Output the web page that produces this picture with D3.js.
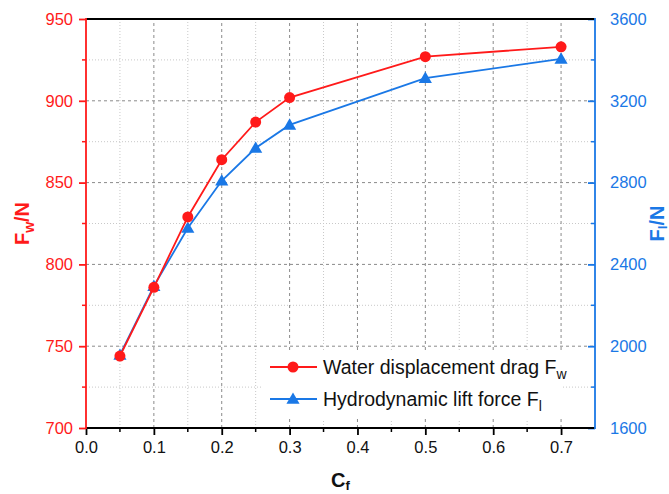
<!DOCTYPE html>
<html>
<head>
<meta charset="utf-8">
<script src="https://cdn.jsdelivr.net/npm/d3@7"></script>
<style>
  body { margin: 0; background: #fff; }
  text { font-family: "Liberation Sans", Arial, sans-serif; }
</style>
</head>
<body>
<div id="chart"></div>
<script>
const cf = [0.05, 0.1, 0.15, 0.2, 0.25, 0.3, 0.5, 0.7];
const dragFw = [744, 786, 829, 864, 887, 902, 927, 933];
const liftFl = [1957, 2294, 2578, 2809, 2969, 3082, 3311, 3405];
const xTicks = [0, 0.1, 0.2, 0.3, 0.4, 0.5, 0.6, 0.7];
const leftTicks = [700, 750, 800, 850, 900, 950];
const rightTicks = [1600, 2000, 2400, 2800, 3200, 3600];

const width = 669, height = 494;
const margin = { top: 19, right: 74, bottom: 66, left: 86 };
const red = "#ff1a1a", blue = "#1a78e6";

const svg = d3.select("#chart").append("svg")
  .attr("width", width).attr("height", height);

const x = d3.scaleLinear().domain([0, 0.75]).range([margin.left, width - margin.right]);
const yL = d3.scaleLinear().domain([700, 950]).range([height - margin.bottom, margin.top]);
const yR = d3.scaleLinear().domain([1600, 3600]).range([height - margin.bottom, margin.top]);

const x0 = margin.left, x1 = width - margin.right;
const y0 = height - margin.bottom, y1 = margin.top;

// grid
const grid = svg.append("g");
const minorX = d3.range(0.05, 0.75, 0.1);
const minorY = d3.range(725, 950, 50);
grid.selectAll(".mx").data(minorX).join("line")
  .attr("x1", d => x(d)).attr("x2", d => x(d)).attr("y1", y0).attr("y2", y1)
  .attr("stroke", "#c8c8c8").attr("stroke-dasharray", "1,2");
grid.selectAll(".my").data(minorY).join("line")
  .attr("y1", d => yL(d)).attr("y2", d => yL(d)).attr("x1", x0).attr("x2", x1)
  .attr("stroke", "#c8c8c8").attr("stroke-dasharray", "1,2");
grid.selectAll(".gx").data(xTicks.slice(1)).join("line")
  .attr("x1", d => x(d)).attr("x2", d => x(d)).attr("y1", y0).attr("y2", y1)
  .attr("stroke", "#8a8a8a").attr("stroke-dasharray", "3,3");
grid.selectAll(".gy").data(leftTicks.slice(1, -1)).join("line")
  .attr("y1", d => yL(d)).attr("y2", d => yL(d)).attr("x1", x0).attr("x2", x1)
  .attr("stroke", "#8a8a8a").attr("stroke-dasharray", "3,3");

// lines
const lineW = d3.line().x((d, i) => x(cf[i])).y(d => yL(d));
const lineL = d3.line().x((d, i) => x(cf[i])).y(d => yR(d));
svg.append("path").datum(liftFl).attr("d", lineL)
  .attr("fill", "none").attr("stroke", blue).attr("stroke-width", 1.8);
svg.append("path").datum(dragFw).attr("d", lineW)
  .attr("fill", "none").attr("stroke", red).attr("stroke-width", 1.8);

const tri = d3.symbol().type(d3.symbolTriangle).size(75);
svg.append("g").selectAll("path").data(liftFl).join("path")
  .attr("d", tri)
  .attr("transform", (d, i) => `translate(${x(cf[i])},${yR(d) + 1})`)
  .attr("fill", blue);
svg.append("g").selectAll("circle").data(dragFw).join("circle")
  .attr("cx", (d, i) => x(cf[i])).attr("cy", d => yL(d)).attr("r", 5.5)
  .attr("fill", red);

// legend
const lg = svg.append("g");
lg.append("rect").attr("x", 263).attr("y", 351).attr("width", 300).attr("height", 68)
  .attr("fill", "#fff");
const legendItems = [
  { color: red, name: "Water displacement drag F", sub: "w", sym: "circle", y: 367 },
  { color: blue, name: "Hydrodynamic lift force F", sub: "l", sym: "triangle", y: 399 }
];
legendItems.forEach(it => {
  lg.append("line").attr("x1", 270).attr("x2", 317).attr("y1", it.y).attr("y2", it.y)
    .attr("stroke", it.color).attr("stroke-width", 1.8);
  if (it.sym === "circle") {
    lg.append("circle").attr("cx", 293).attr("cy", it.y).attr("r", 5.5).attr("fill", it.color);
  } else {
    lg.append("path").attr("d", tri).attr("transform", `translate(293,${it.y + 1})`).attr("fill", it.color);
  }
  const t = lg.append("text").attr("x", 323).attr("y", it.y + 7)
    .attr("font-size", 19.5).attr("fill", "#111");
  t.append("tspan").text(it.name);
  t.append("tspan").attr("dy", 5).attr("font-size", 14).text(it.sub);
});

// axes
const axB = d3.axisBottom(x).tickValues(xTicks).tickSize(7).tickPadding(6)
  .tickFormat(d3.format(".1f"));
const gB = svg.append("g").attr("transform", `translate(0,${y0})`).call(axB);
gB.select(".domain").remove();
gB.selectAll(".tick line").attr("stroke", "#000").attr("stroke-width", 1.8);
gB.selectAll("text").attr("font-size", 16.5).attr("fill", "#111");
gB.selectAll(".minor").data(minorX).join("line").attr("class", "minor")
  .attr("x1", d => x(d)).attr("x2", d => x(d)).attr("y1", 0).attr("y2", 4)
  .attr("stroke", "#000").attr("stroke-width", 1.5);

const axL = d3.axisLeft(yL).tickValues(leftTicks).tickSize(7).tickPadding(6)
  .tickFormat(d3.format("d"));
const gL = svg.append("g").attr("transform", `translate(${x0},0)`).call(axL);
gL.select(".domain").remove();
gL.selectAll(".tick line").attr("stroke", red).attr("stroke-width", 1.8);
gL.selectAll("text").attr("font-size", 16.5).attr("fill", red);
gL.selectAll(".minor").data(minorY).join("line").attr("class", "minor")
  .attr("y1", d => yL(d)).attr("y2", d => yL(d)).attr("x1", 0).attr("x2", -4)
  .attr("stroke", red).attr("stroke-width", 1.5);

const minorR = d3.range(1800, 3600, 400);
const axR = d3.axisRight(yR).tickValues(rightTicks).tickSize(-7).tickPadding(15)
  .tickFormat(d3.format("d"));
const gR = svg.append("g").attr("transform", `translate(${x1},0)`).call(axR);
gR.select(".domain").remove();
gR.selectAll(".tick line").attr("stroke", blue).attr("stroke-width", 1.8);
gR.selectAll("text").attr("font-size", 16.5).attr("fill", blue);
gR.selectAll(".minor").data(minorR).join("line").attr("class", "minor")
  .attr("y1", d => yR(d)).attr("y2", d => yR(d)).attr("x1", 0).attr("x2", -4)
  .attr("stroke", blue).attr("stroke-width", 1.5);

// frame
svg.append("line").attr("x1", x0).attr("x2", x1).attr("y1", y1).attr("y2", y1)
  .attr("stroke", "#000").attr("stroke-width", 1.8);
svg.append("line").attr("x1", x0).attr("x2", x1).attr("y1", y0).attr("y2", y0)
  .attr("stroke", "#000").attr("stroke-width", 1.8);
svg.append("line").attr("x1", x0).attr("x2", x0).attr("y1", y0 + 1).attr("y2", y1 - 1)
  .attr("stroke", red).attr("stroke-width", 1.8);
svg.append("line").attr("x1", x1).attr("x2", x1).attr("y1", y0 + 1).attr("y2", y1 - 1)
  .attr("stroke", blue).attr("stroke-width", 1.8);

// titles
const midY = (y0 + y1) / 2;
const tL = svg.append("text").attr("transform", `translate(29,${midY}) rotate(-90)`)
  .attr("text-anchor", "middle").attr("font-size", 20).attr("font-weight", "bold").attr("fill", red);
tL.append("tspan").text("F");
tL.append("tspan").attr("dy", 5).attr("font-size", 14).text("w");
tL.append("tspan").attr("dy", -5).text("/N");

const tR = svg.append("text").attr("transform", `translate(664,${midY}) rotate(-90)`)
  .attr("text-anchor", "middle").attr("font-size", 20).attr("font-weight", "bold").attr("fill", blue);
tR.append("tspan").text("F");
tR.append("tspan").attr("dy", 3).attr("font-size", 13).text("l");
tR.append("tspan").attr("dy", -3).text("/N");

const tB = svg.append("text").attr("x", (x0 + x1) / 2).attr("y", 487)
  .attr("text-anchor", "middle").attr("font-size", 20).attr("font-weight", "bold").attr("fill", "#111");
tB.append("tspan").text("C");
tB.append("tspan").attr("dy", 3).attr("font-size", 13).text("f");
</script>
</body>
</html>
